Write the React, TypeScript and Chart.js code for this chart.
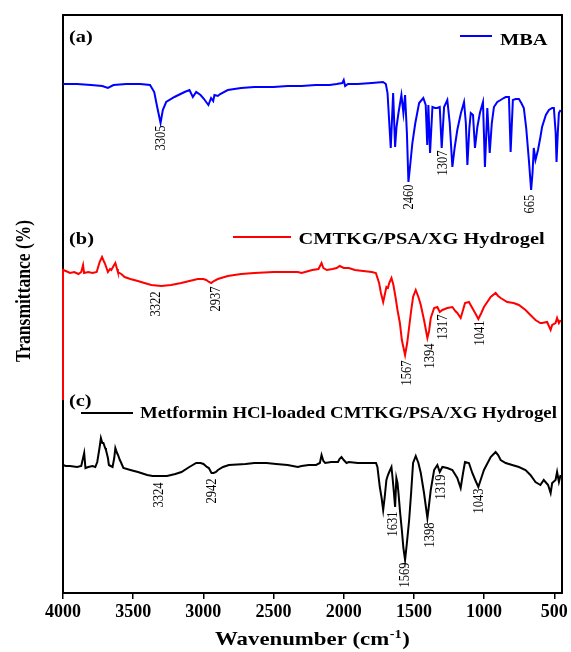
import React, { useEffect, useRef } from "react";
import { Chart, registerables } from "chart.js";

Chart.register(...registerables);

// ---------- Data (wavenumber cm^-1, transmittance in arbitrary offset units) ----------
const X_TICKS = [4000, 3500, 3000, 2500, 2000, 1500, 1000, 500];
const X_MIN = 445;
const X_MAX = 4000;
const Y_MIN = 0;
const Y_MAX = 578;

const SERIES_NAMES = ["MBA", "CMTKG/PSA/XG Hydrogel", "Metformin HCl-loaded CMTKG/PSA/XG Hydrogel"];
const PANEL_TAGS = ["(a)", "(b)", "(c)"];

const MBA: [number, number][] = [
  [4000, 509], [3900, 509], [3800, 508], [3720, 507], [3680, 505], [3640, 508], [3550, 509], [3450, 509],
  [3380, 508], [3350, 501], [3329, 486], [3305, 470], [3289, 483], [3265, 491], [3206, 496], [3134, 501],
  [3099, 503], [3075, 496], [3051, 501], [3020, 498], [2995, 494], [2980, 491], [2964, 488], [2945, 495],
  [2930, 492], [2921, 498], [2897, 497], [2880, 499], [2826, 503], [2731, 505], [2637, 506], [2500, 506],
  [2400, 507], [2300, 507], [2200, 508], [2150, 508], [2100, 508], [2050, 509], [2010, 510], [2000, 513],
  [1990, 507], [1970, 509], [1900, 509], [1800, 510], [1720, 511], [1700, 509], [1688, 500], [1665, 445],
  [1648, 500], [1634, 446], [1624, 466], [1610, 480], [1589, 498], [1575, 480], [1563, 498], [1550, 460],
  [1539, 411], [1525, 430], [1511, 450], [1490, 470], [1463, 490], [1433, 495], [1416, 488], [1405, 448],
  [1397, 488], [1385, 440], [1368, 486], [1350, 485], [1333, 485], [1316, 486], [1302, 445], [1285, 486],
  [1262, 493], [1245, 470], [1226, 426], [1210, 445], [1191, 463], [1165, 480], [1143, 491], [1130, 470],
  [1119, 428], [1105, 465], [1095, 480], [1079, 478], [1065, 445], [1048, 466], [1030, 480], [1008, 491],
  [994, 426], [977, 485], [960, 440], [945, 470], [930, 486], [906, 491], [882, 493], [860, 495],
  [846, 496], [823, 496], [811, 441], [795, 493], [775, 494], [752, 494], [735, 490], [717, 485],
  [700, 465], [681, 433], [665, 403], [655, 420], [646, 445], [634, 433], [616, 443], [600, 455],
  [587, 466], [560, 478], [538, 483], [515, 485], [503, 485], [490, 460], [484, 431], [475, 460],
  [467, 480], [455, 483],
];

const HYDROGEL: [number, number][] = [
  [4000, 193], [4000, 323], [3980, 322], [3950, 320], [3920, 321], [3890, 319], [3870, 321], [3857, 328],
  [3850, 320], [3820, 321], [3790, 320], [3760, 321], [3739, 331], [3722, 336], [3710, 332], [3703, 330],
  [3690, 325], [3680, 321], [3665, 324], [3656, 323], [3640, 327], [3627, 330], [3615, 324], [3609, 321],
  [3585, 319], [3561, 316], [3520, 314], [3467, 312], [3420, 310], [3371, 308], [3300, 307], [3230, 308],
  [3158, 310], [3100, 312], [3040, 314], [3000, 314], [2980, 313], [2960, 311], [2944, 310], [2925, 312],
  [2897, 314], [2826, 317], [2731, 319], [2637, 320], [2500, 321], [2400, 321], [2327, 321], [2300, 320],
  [2250, 322], [2224, 323], [2180, 324], [2158, 330], [2145, 325], [2120, 323], [2080, 324], [2050, 325],
  [2029, 327], [2000, 325], [1964, 325], [1920, 323], [1862, 322], [1800, 321], [1771, 320], [1748, 310],
  [1735, 300], [1719, 291], [1705, 300], [1696, 306], [1685, 305], [1676, 310], [1660, 315], [1646, 308],
  [1630, 295], [1617, 283], [1600, 270], [1586, 253], [1563, 238], [1548, 250], [1534, 266], [1520, 282],
  [1506, 296], [1487, 303], [1468, 296], [1451, 288], [1428, 273], [1404, 255], [1392, 262], [1380, 275],
  [1356, 285], [1333, 286], [1316, 281], [1297, 283], [1262, 285], [1226, 286], [1205, 282], [1191, 280],
  [1167, 275], [1150, 283], [1136, 290], [1108, 291], [1084, 285], [1060, 279], [1041, 274], [1020, 280],
  [1001, 286], [953, 296], [918, 300], [900, 297], [882, 295], [835, 291], [790, 290], [752, 288],
  [705, 283], [670, 278], [634, 273], [600, 270], [587, 270], [551, 271], [526, 263], [515, 268],
  [491, 270], [480, 275], [467, 270], [455, 273],
];

const LOADED: [number, number][] = [
  [4000, 128], [3980, 127], [3950, 127], [3900, 126], [3870, 127], [3849, 140], [3840, 125], [3820, 126],
  [3790, 127], [3770, 126], [3756, 131], [3740, 145], [3730, 155], [3720, 150], [3712, 150], [3700, 145],
  [3694, 143], [3680, 135], [3673, 128], [3660, 127], [3647, 126], [3635, 135], [3627, 145], [3615, 140],
  [3608, 138], [3595, 133], [3588, 131], [3570, 125], [3520, 123], [3466, 121], [3400, 118], [3362, 117],
  [3300, 117], [3259, 117], [3200, 119], [3156, 121], [3100, 126], [3051, 130], [3020, 130], [2999, 129],
  [2975, 126], [2961, 125], [2942, 120], [2927, 120], [2910, 121], [2896, 123], [2860, 126], [2818, 128],
  [2700, 129], [2637, 130], [2550, 130], [2482, 129], [2400, 128], [2327, 126], [2300, 127], [2249, 128],
  [2197, 128], [2170, 130], [2158, 138], [2145, 132], [2132, 130], [2090, 131], [2060, 131], [2041, 131],
  [2030, 134], [2016, 136], [2000, 133], [1980, 130], [1964, 131], [1900, 130], [1860, 130], [1800, 130],
  [1770, 130], [1760, 126], [1743, 106], [1730, 95], [1719, 83], [1708, 96], [1696, 113], [1685, 118],
  [1676, 121], [1660, 126], [1652, 115], [1646, 106], [1634, 86], [1625, 115], [1617, 110], [1610, 100],
  [1598, 80], [1586, 63], [1575, 45], [1563, 33], [1550, 50], [1534, 73], [1520, 100], [1506, 130],
  [1487, 137], [1468, 130], [1451, 120], [1428, 100], [1404, 75], [1395, 85], [1380, 103], [1356, 123],
  [1333, 128], [1316, 121], [1297, 126], [1262, 125], [1226, 123], [1191, 115], [1167, 105], [1150, 120],
  [1136, 131], [1108, 130], [1084, 120], [1060, 112], [1041, 106], [1020, 115], [1001, 123], [953, 136],
  [918, 141], [900, 138], [882, 133], [846, 130], [800, 128], [752, 126], [705, 123], [670, 118],
  [634, 111], [599, 108], [575, 113], [544, 108], [526, 100], [515, 110], [491, 113], [480, 121],
  [467, 111], [455, 118],
];

// Peak annotations: [text, wavenumber, transmittance] (centre of the rotated label)
const MBA_PEAKS: [string, number, number][] = [
  ["3305", 3303, 455], ["2460", 1538, 396], ["1307", 1295, 430], ["665", 669, 389],
];
const HYDROGEL_PEAKS: [string, number, number][] = [
  ["3322", 3336, 289], ["2937", 2912, 294], ["1567", 1551, 220], ["1394", 1387, 237],
  ["1317", 1289, 266], ["1041", 1032, 260],
];
const LOADED_PEAKS: [string, number, number][] = [
  ["3324", 3319, 98], ["2942", 2935, 102], ["1631", 1646, 69], ["1569", 1560, 18],
  ["1398", 1384, 58], ["1319", 1305, 106], ["1043", 1033, 92],
];

const COLORS = ["#0000ff", "#ff0000", "#000000"];
const SERIF = "'Liberation Serif', 'Times New Roman', serif";
const SX = 1.2; // horizontal stretch of the original figure's text

function drawText(
  ctx: CanvasRenderingContext2D, s: string, x: number, y: number, font: string,
  align: CanvasTextAlign, baseline: CanvasTextBaseline, sx: number, rotate = false,
) {
  ctx.save();
  ctx.translate(x, y);
  ctx.scale(sx, 1);
  if (rotate) ctx.rotate(-Math.PI / 2);
  ctx.font = font;
  ctx.textAlign = align;
  ctx.textBaseline = baseline;
  ctx.fillStyle = "#000";
  ctx.fillText(s, 0, 0);
  ctx.restore();
}

const overlayPlugin = {
  id: "overlay",
  beforeDatasetsDraw(chart: any) {
    const { ctx, chartArea: a } = chart;
    ctx.save();
    ctx.strokeStyle = "#000";
    ctx.lineWidth = 2;
    ctx.strokeRect(a.left, a.top, a.right - a.left, a.bottom - a.top);
    ctx.restore();
  },
  afterDatasetsDraw(chart: any) {
    const { ctx } = chart;
    const xs = chart.scales.x;
    const ys = chart.scales.y;

    // peak labels
    const peakFont = `12.5px ${SERIF}`;
    [MBA_PEAKS, HYDROGEL_PEAKS, LOADED_PEAKS].forEach((peaks) => {
      peaks.forEach(([t, wn, v]) => {
        drawText(ctx, t, xs.getPixelForValue(wn), ys.getPixelForValue(v), peakFont, "center", "middle", SX, true);
      });
    });

    // panel tags
    const tagFont = `bold 17px ${SERIF}`;
    drawText(ctx, PANEL_TAGS[0], 69, 42, tagFont, "left", "alphabetic", SX);
    drawText(ctx, PANEL_TAGS[1], 69, 243.5, tagFont, "left", "alphabetic", SX);
    drawText(ctx, PANEL_TAGS[2], 69, 405.5, tagFont, "left", "alphabetic", SX);

    // legends: x1, x2, line y, text baseline, font size
    const legends: [number, number, number, number, number][] = [
      [460, 492, 36, 45, 17],
      [233, 291, 237, 243.5, 17],
      [81, 133, 413, 418, 16],
    ];
    const textX = [500, 298.5, 140];
    const textSX = [SX, SX, 1.175];
    legends.forEach(([x1, x2, ly, tb, fs], i) => {
      ctx.save();
      ctx.strokeStyle = COLORS[i];
      ctx.lineWidth = 2;
      ctx.beginPath();
      ctx.moveTo(x1, ly);
      ctx.lineTo(x2, ly);
      ctx.stroke();
      ctx.restore();
      drawText(ctx, SERIES_NAMES[i], textX[i], tb, `bold ${fs}px ${SERIF}`, "left", "alphabetic", textSX[i]);
    });

    // y axis title
    drawText(ctx, "Transmittance (%)", 25, 291, `bold 17.5px ${SERIF}`, "center", "middle", SX, true);

    // x axis title with superscript
    const main = `bold 19px ${SERIF}`;
    const sup = `bold 12px ${SERIF}`;
    ctx.save();
    ctx.font = main;
    const w1 = ctx.measureText("Wavenumber (cm").width;
    const w3 = ctx.measureText(")").width;
    ctx.font = sup;
    const w2 = ctx.measureText("-1").width;
    const total = (w1 + w2 + w3 + 1) * SX;
    const cx = (chart.chartArea.left + chart.chartArea.right) / 2;
    const baseY = 645;
    ctx.translate(cx - total / 2, baseY);
    ctx.scale(SX, 1);
    ctx.fillStyle = "#000";
    ctx.textBaseline = "alphabetic";
    ctx.textAlign = "left";
    ctx.font = main;
    ctx.fillText("Wavenumber (cm", 0, 0);
    ctx.font = sup;
    ctx.fillText("-1", w1 + 0.5, -7);
    ctx.font = main;
    ctx.fillText(")", w1 + w2 + 1, 0);
    ctx.restore();
  },
};

function toPoints(arr: [number, number][]) {
  return arr.map(([x, y]) => ({ x, y }));
}

export default function App() {
  const ref = useRef<HTMLCanvasElement | null>(null);

  useEffect(() => {
    if (!ref.current) return;
    const chart = new Chart(ref.current, {
      type: "line",
      data: {
        datasets: [MBA, HYDROGEL, LOADED].map((d, i) => ({
          label: SERIES_NAMES[i],
          data: toPoints(d),
          borderColor: COLORS[i],
          backgroundColor: COLORS[i],
          borderWidth: 2,
          pointRadius: 0,
          tension: 0,
          fill: false,
          clip: 4,
        })),
      },
      options: {
        animation: false,
        responsive: false,
        maintainAspectRatio: false,
        layout: { padding: { left: 63, right: 9, top: 15, bottom: 0 } },
        plugins: {
          legend: { display: false },
          tooltip: { enabled: false },
          title: { display: false },
        },
        scales: {
          x: {
            type: "linear",
            reverse: true,
            min: X_MIN,
            max: X_MAX,
            afterBuildTicks: (s: any) => {
              s.ticks = X_TICKS.map((v) => ({ value: v }));
            },
            afterFit: (s: any) => {
              s.height = 59;
            },
            grid: {
              display: true,
              drawOnChartArea: false,
              drawTicks: true,
              tickLength: 6,
              color: "#000",
              lineWidth: 1.5,
            },
            border: { display: false },
            ticks: {
              color: "#000",
              font: { family: SERIF, weight: "bold", size: 18 },
              padding: 3,
              maxRotation: 0,
              autoSkip: false,
              callback: (v: any) => String(v),
            },
          },
          y: { display: false, min: Y_MIN, max: Y_MAX },
        },
      } as any,
      plugins: [overlayPlugin],
    });
    return () => chart.destroy();
  }, []);

  return (
    <div style={{ position: "absolute", left: 0, top: 0, width: 571, height: 652, background: "#fff" }}>
      <canvas ref={ref} width={571} height={652} style={{ display: "block", width: 571, height: 652 }} />
    </div>
  );
}
